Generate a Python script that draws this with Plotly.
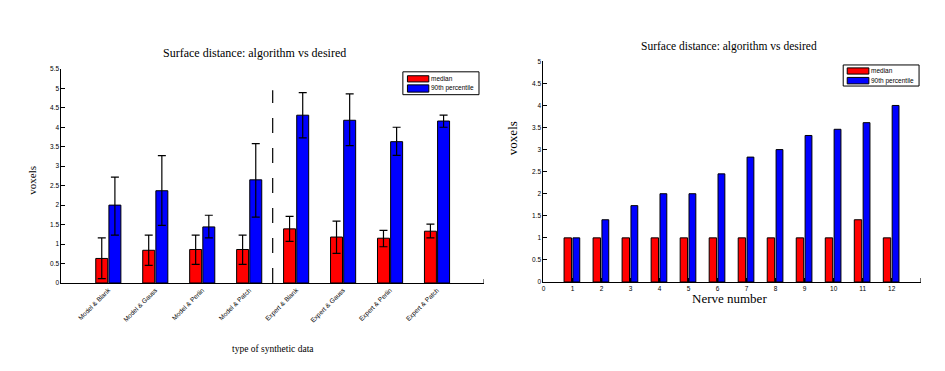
import plotly.graph_objects as go

# ---------------- data ----------------
synthetic_types = ["Model & Blank", "Model & Gauss", "Model & Perlin", "Model & Patch",
                   "Expert & Blank", "Expert & Gauss", "Expert & Perlin", "Expert & Patch"]
n_model = 4
median_vals = [0.63, 0.84, 0.86, 0.86, 1.39, 1.18, 1.15, 1.33]
median_err_hi = [1.16, 1.23, 1.23, 1.23, 1.71, 1.59, 1.35, 1.51]
median_err_lo = [0.11, 0.45, 0.48, 0.48, 1.07, 0.76, 0.93, 1.16]
p90_vals = [2.0, 2.37, 1.44, 2.65, 4.31, 4.18, 3.63, 4.16]
p90_err_hi = [2.72, 3.27, 1.74, 3.58, 4.89, 4.86, 4.0, 4.31]
p90_err_lo = [1.23, 1.48, 1.16, 1.69, 3.73, 3.53, 3.28, 4.0]

nerve_numbers = [1, 2, 3, 4, 5, 6, 7, 8, 9, 10, 11, 12]
nerve_median = [1, 1, 1, 1, 1, 1, 1, 1, 1, 1, 1.41, 1]
nerve_p90 = [1.0, 1.41, 1.73, 2.0, 2.0, 2.45, 2.83, 3.0, 3.32, 3.46, 3.61, 4.0]

left_yticks = [0, 0.5, 1, 1.5, 2, 2.5, 3, 3.5, 4, 4.5, 5, 5.5]
right_yticks = [0, 0.5, 1, 1.5, 2, 2.5, 3, 3.5, 4, 4.5, 5]
right_xticks = list(range(0, 13))
series_names = ["median", "90th percentile"]

# ---------------- figure ----------------
OFF = 8  # page body margin
W, H = 945 - OFF, 371 - OFF
RED = "#ff0000"
BLUE = "#0000ff"
SERIF = "Liberation Serif, Times New Roman, serif"
SANS = "Liberation Sans, Arial, sans-serif"


def px(x):
    return (x - OFF) / W


def py(y):
    return 1 - (y - OFF) / H


xpos = list(range(1, len(synthetic_types) + 1))
left_xmax = len(synthetic_types) + 1
right_xmax = len(nerve_numbers) + 1

fig = go.Figure()
fig.add_trace(go.Bar(
    x=xpos, y=median_vals, name=series_names[0], marker=dict(color=RED, line=dict(color="black", width=1)),
    width=0.255, offset=-0.268, xaxis="x", yaxis="y", showlegend=False,
    error_y=dict(type="data", symmetric=False,
                 array=[h - v for h, v in zip(median_err_hi, median_vals)],
                 arrayminus=[v - l for l, v in zip(median_err_lo, median_vals)],
                 color="black", thickness=1.2, width=4)))
fig.add_trace(go.Bar(
    x=xpos, y=p90_vals, name=series_names[1], marker=dict(color=BLUE, line=dict(color="black", width=1)),
    width=0.255, offset=0.012, xaxis="x", yaxis="y", showlegend=False,
    error_y=dict(type="data", symmetric=False,
                 array=[h - v for h, v in zip(p90_err_hi, p90_vals)],
                 arrayminus=[v - l for l, v in zip(p90_err_lo, p90_vals)],
                 color="black", thickness=1.2, width=4)))

fig.add_trace(go.Bar(
    x=nerve_numbers, y=nerve_median, name=series_names[0], marker=dict(color=RED, line=dict(color="black", width=1)),
    width=0.255, offset=-0.29, xaxis="x2", yaxis="y2", showlegend=False))
fig.add_trace(go.Bar(
    x=nerve_numbers, y=nerve_p90, name=series_names[1], marker=dict(color=BLUE, line=dict(color="black", width=1)),
    width=0.235, offset=0.015, xaxis="x2", yaxis="y2", showlegend=False))

# separator between model and expert groups
sep_x = n_model + 0.5
fig.add_shape(type="line", xref="x", yref="y", x0=sep_x, x1=sep_x, y0=0, y1=4.95,
              line=dict(color="black", width=1.2, dash="longdash"))
# small tick at the right end of each x axis
fig.add_shape(type="line", xref="x", yref="y", x0=left_xmax, x1=left_xmax, y0=0, y1=0.1,
              line=dict(color="black", width=1))
fig.add_shape(type="line", xref="x2", yref="y2", x0=right_xmax, x1=right_xmax, y0=0, y1=0.09,
              line=dict(color="black", width=1))

axis_common = dict(showline=True, linecolor="black", linewidth=1, ticks="inside", ticklen=4,
                   tickcolor="black", showgrid=False, zeroline=False, mirror=False,
                   tickfont=dict(family=SANS, size=6.5, color="black"))

fig.update_layout(
    width=W, height=H, margin=dict(l=0, r=0, t=0, b=0),
    paper_bgcolor="white", plot_bgcolor="white", showlegend=False,
    barmode="overlay",
    xaxis=dict(domain=[px(59.5), px(483)], range=[0, left_xmax], tickvals=xpos, ticktext=synthetic_types,
               tickangle=-45, anchor="y", **{**axis_common, "ticks": ""}),
    yaxis=dict(domain=[py(284.3), py(66)], range=[0, 5.5], tickvals=left_yticks,
               ticktext=[f"{v:g}" for v in left_yticks], anchor="x", **axis_common),
    xaxis2=dict(domain=[px(542.6), px(920.7)], range=[0, right_xmax], tickvals=right_xticks, anchor="y2",
                **axis_common),
    yaxis2=dict(domain=[py(283.3), py(58.3)], range=[0, 5], tickvals=right_yticks,
                ticktext=[f"{v:g}" for v in right_yticks], anchor="x2", **axis_common),
)

annos = [
    dict(text="Surface distance: algorithm vs desired", x=px(253.5), y=py(49.5), size=12),
    dict(text="Surface distance: algorithm vs desired", x=px(729), y=py(43.5), size=11.5),
    dict(text="type of synthetic data", x=px(271.7), y=py(352), size=9.5),
    dict(text="Nerve number", x=px(729), y=py(300.5), size=13),
]
for a in annos:
    fig.add_annotation(text=a["text"], x=a["x"], y=a["y"], xref="paper", yref="paper",
                       showarrow=False, xanchor="center", yanchor="middle",
                       font=dict(family=SERIF, size=a["size"], color="black"))
fig.add_annotation(text="voxels", x=px(30), y=py(179), xref="paper", yref="paper", showarrow=False,
                   textangle=-90, xanchor="center", yanchor="middle",
                   font=dict(family=SERIF, size=11, color="black"))
fig.add_annotation(text="voxels", x=px(511.7), y=py(137), xref="paper", yref="paper", showarrow=False,
                   textangle=-90, xanchor="center", yanchor="middle",
                   font=dict(family=SERIF, size=13, color="black"))


# Matlab-style legends (box, colour patches, labels)
def add_legend(box, patch_x, rows, text_x):
    x0, x1, y0, y1 = box
    fig.add_shape(type="rect", xref="paper", yref="paper", x0=px(x0), x1=px(x1), y0=py(y1), y1=py(y0),
                  line=dict(color="black", width=1), fillcolor="white", layer="above")
    for (ya, yb), color, name in zip(rows, [RED, BLUE], series_names):
        fig.add_shape(type="rect", xref="paper", yref="paper", x0=px(patch_x[0]), x1=px(patch_x[1]),
                      y0=py(yb), y1=py(ya), line=dict(color="black", width=1), fillcolor=color,
                      layer="above")
        fig.add_annotation(text=name, x=px(text_x), y=py((ya + yb) / 2), xref="paper", yref="paper",
                           showarrow=False, xanchor="left", yanchor="middle",
                           font=dict(family=SANS, size=6.5, color="black"))


add_legend((401.7, 478, 69, 92.3), (406.3, 427.7), [(73, 79.3), (82.3, 89.7)], 427.5)
add_legend((843, 919, 62, 83.5), (847, 868.7), [(65, 71.3), (74.7, 81.3)], 869.2)

fig.write_html("out.html")
